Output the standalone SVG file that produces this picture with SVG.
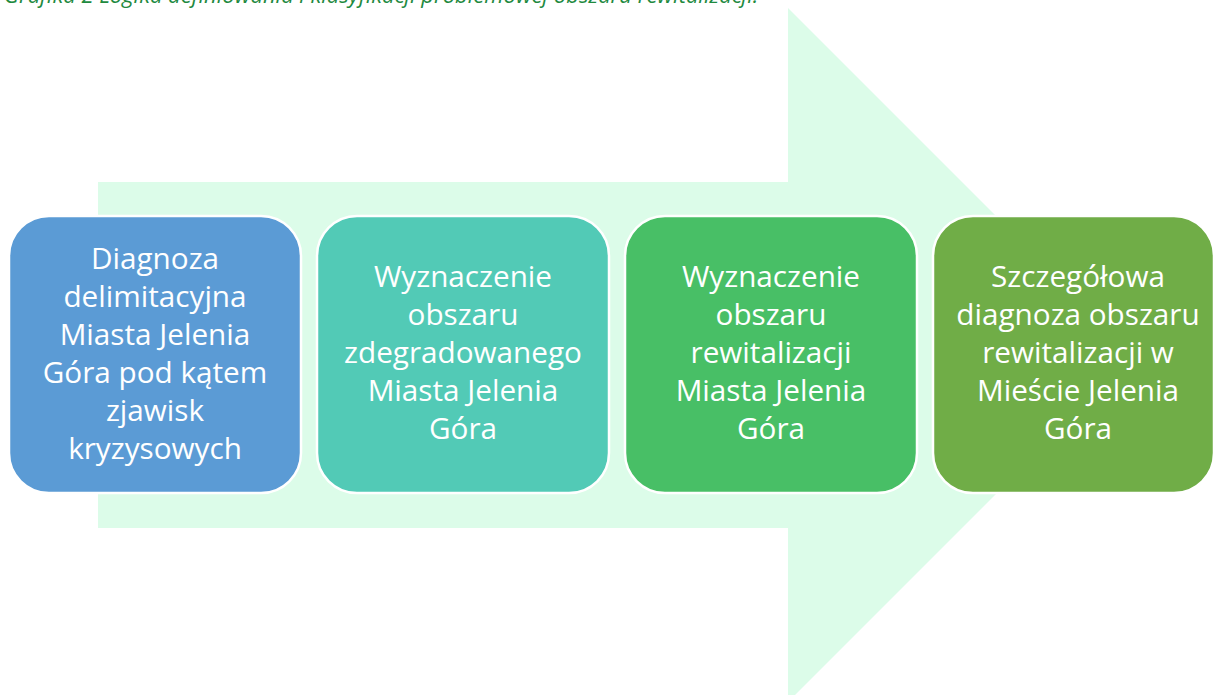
<svg xmlns="http://www.w3.org/2000/svg" width="1215" height="695" viewBox="0 0 1215 695">
  <style>
    .box { stroke: #ffffff; stroke-width: 2.5; }
    .lbl { font-family: "Open Sans", "Liberation Sans", sans-serif; font-size: 29.7px; fill: #ffffff; text-anchor: middle; }
    .cap { font-family: "Open Sans", "Liberation Sans", sans-serif; font-size: 22px; font-style: italic; fill: #1f8a3f; }
  </style>
  <rect width="1215" height="695" fill="#ffffff"/>
  <text class="cap" x="4" y="3">Grafika 2 Logika definiowania i klasyfikacji problemowej obszaru rewitalizacji.</text>
  <g id="arrow">
    <polygon points="98,182 788,182 788,8 1135,355 788,702 788,528 98,528" fill="#dcfce9"/>
  </g>
  <g id="node1">
    <rect class="box" x="9" y="216" width="292" height="277" rx="40" fill="#5b9bd5"/>
    <text class="lbl"><tspan x="155" y="269">Diagnoza</tspan><tspan x="155" y="307">delimitacyjna</tspan><tspan x="155" y="345">Miasta Jelenia</tspan><tspan x="155" y="383">Góra pod kątem</tspan><tspan x="155" y="421">zjawisk</tspan><tspan x="155" y="459">kryzysowych</tspan></text>
  </g>
  <g id="node2">
    <rect class="box" x="317" y="216" width="292" height="277" rx="40" fill="#52cab6"/>
    <text class="lbl"><tspan x="463" y="287">Wyznaczenie</tspan><tspan x="463" y="325">obszaru</tspan><tspan x="463" y="363">zdegradowanego</tspan><tspan x="463" y="401">Miasta Jelenia</tspan><tspan x="463" y="439">Góra</tspan></text>
  </g>
  <g id="node3">
    <rect class="box" x="625" y="216" width="292" height="277" rx="40" fill="#48bf66"/>
    <text class="lbl"><tspan x="771" y="287">Wyznaczenie</tspan><tspan x="771" y="325">obszaru</tspan><tspan x="771" y="363">rewitalizacji</tspan><tspan x="771" y="401">Miasta Jelenia</tspan><tspan x="771" y="439">Góra</tspan></text>
  </g>
  <g id="node4">
    <rect class="box" x="933" y="216" width="281" height="277" rx="40" fill="#70ad47"/>
    <text class="lbl"><tspan x="1078" y="287">Szczegółowa</tspan><tspan x="1078" y="325">diagnoza obszaru</tspan><tspan x="1078" y="363">rewitalizacji w</tspan><tspan x="1078" y="401">Mieście Jelenia</tspan><tspan x="1078" y="439">Góra</tspan></text>
  </g>
  <g id="connectors"></g>
</svg>
